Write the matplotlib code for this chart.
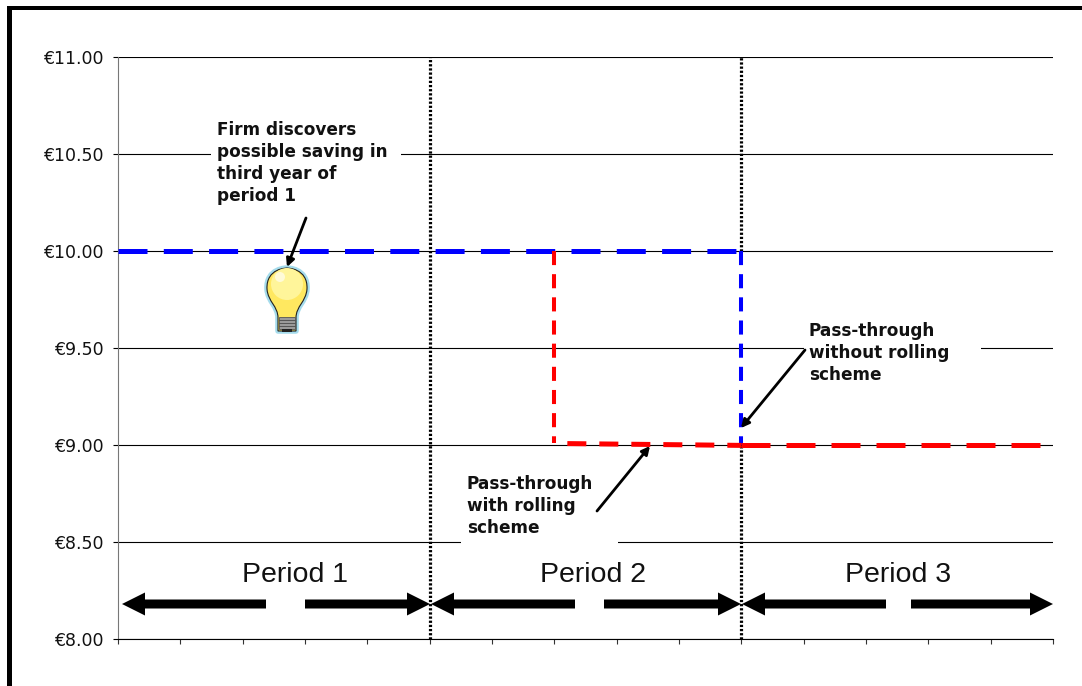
import matplotlib
matplotlib.use('Agg')
import matplotlib.pyplot as plt
from matplotlib.patches import Rectangle, FancyArrow, PathPatch, Circle
from matplotlib.path import Path

# axis
y_ticks = [8.0, 8.5, 9.0, 9.5, 10.0, 10.5, 11.0]
y_labels = ['€8.00', '€8.50', '€9.00', '€9.50', '€10.00', '€10.50', '€11.00']
x_ticks = list(range(16))

# dotted period lines, the second one stops where the blue drop is
period_x = [5, 10, 10]
period_low = [8, 8, 10]
period_high = [11, 9, 11]

# series
no_rolling_x = [0, 10, 10]
no_rolling_y = [10.0, 10.0, 9.0]
rolling_x = [7, 7, 10, 15]
rolling_y = [10.0, 9.01, 9.0, 9.0]

plt.rcParams['font.family'] = ['DejaVu Sans']
W, H = 1082, 686
fig = plt.figure(figsize=(W / 100, H / 100), dpi=100)
fig.patch.set_facecolor('white')

ax = fig.add_axes([118 / W, 1 - 639.4 / H, (1053 - 118) / W, (639.4 - 57.4) / H])
ax.set_xlim(0, 15)
ax.set_ylim(8, 11)
ax.set_yticks(y_ticks)
ax.set_yticklabels(y_labels, fontsize=12.5, color='#111111')
ax.set_xticks(x_ticks)
ax.set_xticklabels([])
ax.tick_params(axis='y', length=3.6, width=0.8, pad=7)
ax.tick_params(axis='x', length=3.6, width=0.8, color='#333333')
ax.grid(axis='y', color='black', lw=0.8)
ax.set_axisbelow(True)
for s in ['top', 'right']:
    ax.spines[s].set_visible(False)
ax.spines['left'].set_color('#777777')
ax.spines['left'].set_linewidth(0.8)
ax.spines['bottom'].set_linewidth(0.8)

for px, lo, hi in zip(period_x, period_low, period_high):
    ax.plot([px, px], [lo, hi], color='black', lw=2.3, dashes=(0.7, 0.6),
            dash_capstyle='butt', zorder=2)

flat = 3.6   # 5 px
drop = 2.9   # 4 px
kw = dict(dash_capstyle='butt', solid_capstyle='butt', clip_on=False, zorder=3)
ax.plot(no_rolling_x[:2], no_rolling_y[:2], color='#0000ff', lw=flat, dashes=(29 / 5, 16.3 / 5), **kw)
ax.plot(no_rolling_x[1:], no_rolling_y[1:], color='#0000ff', lw=drop, dashes=(14 / 4, 9 / 4), **kw)
ax.plot(rolling_x[:2], rolling_y[:2], color='#ff0000', lw=drop, dashes=(14 / 4, 9 / 4), **kw)
# sloped part starts on a gap, the first dash comes after the corner
ax.plot(rolling_x[1:3], rolling_y[1:3], color='#ff0000', lw=flat,
        linestyle=(19 / 5, (19 / 5, 13 / 5)), **kw)
ax.plot(rolling_x[2:], rolling_y[2:], color='#ff0000', lw=flat, dashes=(29 / 5, 16 / 5), **kw)

# overlay in pixel coordinates for the drawn shapes and notes
ov = fig.add_axes([0, 0, 1, 1], zorder=5)
ov.set_xlim(0, W)
ov.set_ylim(H, 0)
ov.axis('off')
ov.patch.set_alpha(0)

# frame, only top and left
ov.add_patch(Rectangle((7, 6), W - 7, 4, color='black', lw=0))
ov.add_patch(Rectangle((7, 6), 5, H - 6, color='black', lw=0))

# white boxes behind the notes
ov.add_patch(Rectangle((211, 148), 190, 12, color='white', lw=0))
ov.add_patch(Rectangle((804, 342), 177, 12, color='white', lw=0))
ov.add_patch(Rectangle((461, 537), 157, 12, color='white', lw=0))

notes = [
    (217, 121, 'Firm discovers\npossible saving in\nthird year of\nperiod 1'),
    (467, 475, 'Pass-through\nwith rolling\nscheme'),
    (809, 322, 'Pass-through\nwithout rolling\nscheme'),
]
for nx, ny, txt in notes:
    ov.text(nx, ny, txt, fontsize=12.2, fontweight='bold', color='#111111',
            va='top', ha='left', linespacing=1.29)

arrows = [
    ((306, 218), (287, 267)),
    ((597, 511), (650, 446)),
    ((805, 350), (741, 428)),
]
for a, b in arrows:
    ov.annotate('', xy=b, xytext=a,
                arrowprops=dict(arrowstyle='-|>', color='black', lw=2.0,
                                mutation_scale=12, shrinkA=0, shrinkB=0))

# period labels and the big arrows
for tx, txt in [(295, 'Period 1'), (593, 'Period 2'), (898, 'Period 3')]:
    ov.text(tx, 575, txt, fontsize=20.5, family='Liberation Sans', color='#111111',
            ha='center', va='center')
big = [(266, 122), (305, 430), (575, 431), (604, 741), (886, 742), (911, 1053)]
for x0, x1 in big:
    ov.add_patch(FancyArrow(x0, 604, x1 - x0, 0, width=9, head_width=23, head_length=23,
                            length_includes_head=True, color='black', lw=0))

# light bulb
bulb = [(278, 331), (278, 318), (278, 306), (268, 302), (267, 289), (266, 268), (287, 268),
        (287, 268), (287, 268), (308, 268), (307, 289), (306, 302), (296, 306), (296, 318),
        (296, 331), (278, 331)]
codes = [Path.MOVETO, Path.LINETO] + [Path.CURVE4] * 12 + [Path.LINETO, Path.CLOSEPOLY]
ov.add_patch(PathPatch(Path(bulb, codes), facecolor='#ffee70', edgecolor='#a5dcec', lw=4, joinstyle='round'))
ov.add_patch(PathPatch(Path(bulb, codes), facecolor='#ffe860', edgecolor='#222222', lw=0.8))
ov.add_patch(Circle((287, 284), 16, color='#fff59a', lw=0))
ov.add_patch(Circle((280, 277), 5, color='#fffbd8', lw=0))
ov.add_patch(Rectangle((279, 317), 16, 12, facecolor='#9a9a9a', edgecolor='#555555', lw=0.6))
for by in [320, 323, 326]:
    ov.plot([279, 295], [by, by], color='#555555', lw=0.7)
ov.add_patch(Rectangle((282, 329), 10, 3, color='#222222', lw=0))

fig.savefig('out.png', dpi=100)
